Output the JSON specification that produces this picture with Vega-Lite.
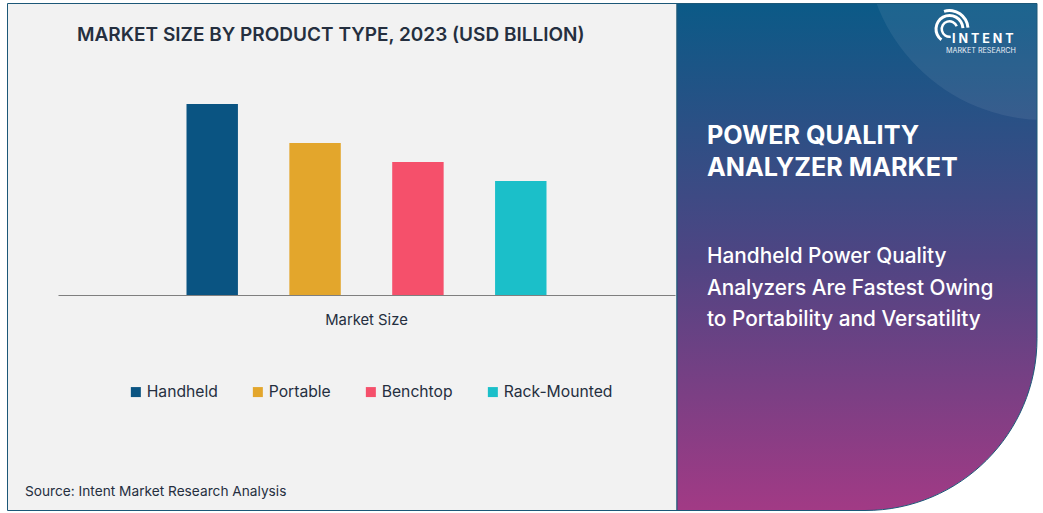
{
"$schema":"https://vega.github.io/schema/vega-lite/v6.json",
"width":1043,"height":513,"padding":0,"autosize":{"type":"none"},"background":"#ffffff",
"view":{"stroke":null},
"config":{"font":"Inter"},
"title":{"text":"MARKET SIZE BY PRODUCT TYPE, 2023 (USD BILLION)","anchor":"start","frame":"group","dx":77,"dy":285,"fontSize":19,"fontWeight":600,"color":"#252f3f","font":"Inter","offset":0},
"layer":[
{"data":{"values":[{"panel":"left"}]},"mark":{"type":"rect","x":7.5,"x2":677,"y":3.5,"y2":510.5,"fill":"#f2f2f2","stroke":"#1c5878","strokeWidth":1},"encoding":{}},
{"data":{"values":[{"panel":"right"}]},"mark":{"type":"rect","x":677,"x2":1037,"y":3.5,"y2":510.5,"cornerRadiusBottomRight":172,"fill":{"gradient":"linear","x1":0,"y1":0,"x2":0,"y2":1,"stops":[{"offset":0,"color":"#0b5a87"},{"offset":0.5,"color":"#4e4583"},{"offset":1,"color":"#a23a85"}]}},"encoding":{}},
{"data":{"values":[{"panel":"swoosh"}]},"mark":{"type":"arc","x":1045,"y":-60,"radius":180,"radius2":0,"theta":0,"theta2":6.2832,"fill":"#ffffff","fillOpacity":0.07},"encoding":{}},
{"data":{"values":[{"panel":"top strip"}]},"mark":{"type":"rect","x":677,"x2":1043,"y":0,"y2":3.5,"fill":"#ffffff"},"encoding":{}},
{"data":{"values":[{"panel":"right strip"}]},"mark":{"type":"rect","x":1037,"x2":1043,"y":0,"y2":150,"fill":"#ffffff"},"encoding":{}},
{"data":{"values":[{"panel":"right outline"}]},"mark":{"type":"rect","x":677,"x2":1037,"y":3.5,"y2":510.5,"cornerRadiusBottomRight":172,"fill":null,"stroke":"#1c5878","strokeWidth":1},"encoding":{}},
{"data":{"values":[{"category":"Market Size","product":"Handheld","value":1.91},{"category":"Market Size","product":"Portable","value":1.52},{"category":"Market Size","product":"Benchtop","value":1.33},{"category":"Market Size","product":"Rack-Mounted","value":1.14}]},
"mark":{"type":"bar"},
"encoding":{
"x":{"field":"category","type":"nominal","scale":{"range":[58,675],"paddingInner":0,"paddingOuter":0},"axis":{"title":null,"offset":-218,"zindex":1,"labelAngle":0,"ticks":false,"labelPadding":17,"labelFontSize":14.8,"labelColor":"#252f3f","labelFont":"Inter","domainColor":"#7f7f7f","domainWidth":1,"grid":false}},
"xOffset":{"field":"product","type":"nominal","sort":["Handheld","Portable","Benchtop","Rack-Mounted"],"scale":{"range":[128.5,488.5],"paddingInner":0.5,"paddingOuter":0}},
"y":{"field":"value","type":"quantitative","scale":{"domain":[0,2.95],"range":[295,0]},"axis":null},
"color":{"field":"product","type":"nominal","sort":["Handheld","Portable","Benchtop","Rack-Mounted"],"scale":{"domain":["Handheld","Portable","Benchtop","Rack-Mounted"],"range":["#0a5482","#e3a62c","#f5506b","#1bbfc9"]},
"legend":{"title":null,"orient":"none","legendX":128,"legendY":384,"columns":4,"symbolType":"square","symbolSize":100,"symbolStrokeWidth":0,"symbolOpacity":1,"columnPadding":32,"labelFontSize":15.7,"labelFont":"Inter","labelColor":"#252f3f","labelOffset":3}}
}},
{"data":{"values":[{"note":"Source: Intent Market Research Analysis"}]},"mark":{"type":"text","x":25,"y":492,"align":"left","fontSize":13.7,"color":"#252f3f","font":"Inter"},"encoding":{"text":{"field":"note"}}},
{"data":{"values":[{"note":"heading"}]},"mark":{"type":"text","x":707,"y":144,"align":"left","baseline":"alphabetic","fontSize":25.2,"fontWeight":700,"color":"#ffffff","font":"Inter","lineHeight":32,"text":["POWER QUALITY","ANALYZER MARKET"]},"encoding":{}},
{"data":{"values":[{"note":"divider"}]},"mark":{"type":"rule","x":696,"x2":1016,"y":206.5,"color":"#ffffff","strokeWidth":1},"encoding":{}},
{"data":{"values":[{"note":"subheading"}]},"mark":{"type":"text","x":707,"y":263,"align":"left","baseline":"alphabetic","fontSize":20.8,"fontWeight":500,"color":"#ffffff","font":"Inter","lineHeight":31.5,"text":["Handheld Power Quality","Analyzers Are Fastest Owing","to Portability and Versatility"]},"encoding":{}},
{"data":{"values":[{"note":"logo"}]},"mark":{"type":"arc","x":949.5,"y":29,"radius":20,"radius2":17,"theta":-0.3,"theta2":1.5,"fill":"#ffffff"},"encoding":{}},
{"data":{"values":[{"note":"logo"}]},"mark":{"type":"arc","x":949.5,"y":29,"radius":15,"radius2":12,"theta":-2.5,"theta2":1.5,"fill":"#ffffff"},"encoding":{}},
{"data":{"values":[{"note":"logo"}]},"mark":{"type":"arc","x":949.5,"y":29,"radius":9,"radius2":6.5,"theta":-3.3,"theta2":1.2,"fill":"#ffffff"},"encoding":{}},
{"data":{"values":[{"note":"INTENT"}]},"mark":{"type":"text","x":952,"y":43,"align":"left","baseline":"alphabetic","fontSize":12.5,"fontWeight":700,"color":"#ffffff","font":"Inter","text":"I N T E N T"},"encoding":{}},
{"data":{"values":[{"note":"MARKET RESEARCH"}]},"mark":{"type":"text","x":946,"y":53,"align":"left","baseline":"alphabetic","fontSize":7.2,"color":"#e8eef5","font":"Inter","text":"MARKET RESEARCH"},"encoding":{}}
]
}
